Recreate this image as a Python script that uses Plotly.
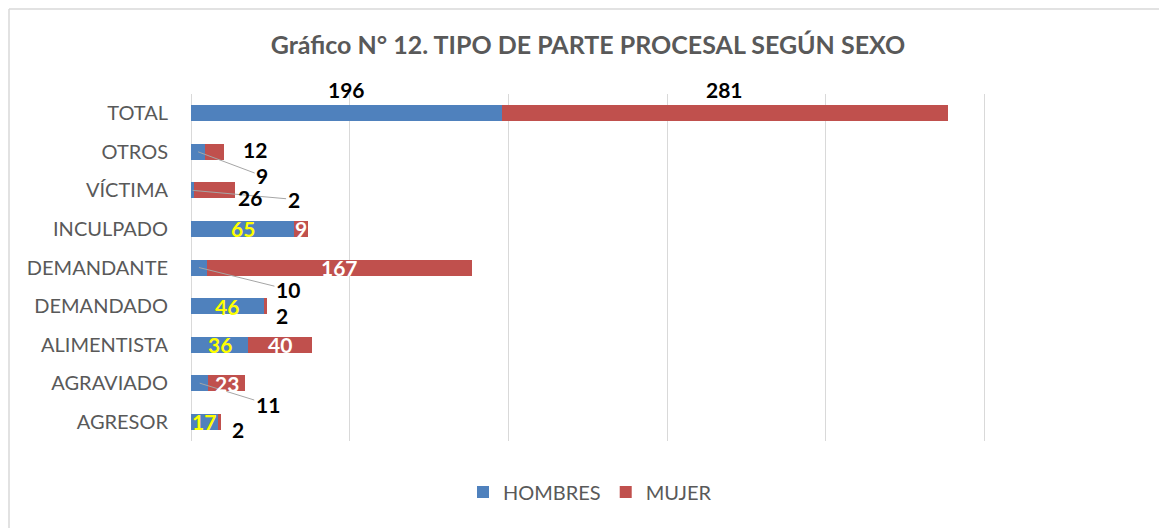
import plotly.graph_objects as go

categories = ["AGRESOR", "AGRAVIADO", "ALIMENTISTA", "DEMANDADO", "DEMANDANTE",
              "INCULPADO", "VÍCTIMA", "OTROS", "TOTAL"]
hombres = [17, 11, 36, 46, 10, 65, 2, 9, 196]
mujer = [2, 23, 40, 2, 167, 9, 26, 12, 281]

# label placement styles: None = inside bar, else (dx, dy, arrow) pixel offset
hombres_lbl = [None, (68, 21, True), None, None, (89, 22, True), None,
               (101, 9, True), (64, 24, True), (0, -24, False)]
mujer_lbl = [(18, 8, False), None, None, (16, 9, False), None, None,
             (35, 7, False), (40, -2, False), (0, -24, False)]

BLUE = "#4F81BD"
RED = "#C0504D"
FONT = "Lato"
LBL = 21

fig = go.Figure()
fig.add_trace(go.Bar(y=categories, x=hombres, name="HOMBRES", orientation="h",
                     marker=dict(color=BLUE, line=dict(width=0))))
fig.add_trace(go.Bar(y=categories, x=mujer, name="MUJER", orientation="h",
                     marker=dict(color=RED, line=dict(width=0))))

annotations = []
for cat, h, m, hl, ml in zip(categories, hombres, mujer, hombres_lbl, mujer_lbl):
    for val, base, lbl, incolor in ((h, 0, hl, "#FFFF00"), (m, h, ml, "#FFFFFF")):
        xc = base + val / 2
        if lbl is None:
            annotations.append(dict(x=xc, y=cat, xref="x", yref="y", text=str(val),
                                    showarrow=False,
                                    font=dict(family=FONT, size=LBL, color=incolor, weight="bold")))
        else:
            dx, dy, arrow = lbl
            if arrow:
                annotations.append(dict(x=xc, y=cat, xref="x", yref="y", text=str(val),
                                        showarrow=True, arrowhead=0, arrowwidth=1,
                                        arrowcolor="#A6A6A6", ax=dx, ay=dy, standoff=0,
                                        font=dict(family=FONT, size=LBL, color="#000000", weight="bold")))
            else:
                annotations.append(dict(x=xc, y=cat, xref="x", yref="y", text=str(val),
                                        showarrow=False, xshift=dx, yshift=-dy,
                                        font=dict(family=FONT, size=LBL, color="#000000", weight="bold")))

# page body has an 8px margin; figure sized to fit the window
W, H = 1159, 520
L, T, B = 183, 86, 87
R = W - L - 952
PH = H - T - B

bx = (1 - L) / 952          # figure-edge x in paper units
by = (H - B - 1) / PH       # figure-edge y in paper units

fig.update_layout(
    width=W, height=H,
    margin=dict(l=L, r=R, t=T, b=B),
    paper_bgcolor="white", plot_bgcolor="white",
    barmode="stack", bargap=0.585,
    title=dict(text="<b>Gráfico N° 12. TIPO DE PARTE PROCESAL SEGÚN SEXO</b>",
               x=(588 - 8) / W, xanchor="center", y=1 - (45 - 8) / H, yanchor="middle",
               font=dict(family=FONT, size=25, color="#595959")),
    xaxis=dict(range=[0, 600], dtick=100, showgrid=True, gridcolor="#D9D9D9", gridwidth=1,
               showticklabels=False, zeroline=True, zerolinecolor="#D9D9D9", zerolinewidth=1,
               showline=False, fixedrange=True),
    yaxis=dict(categoryorder="array", categoryarray=categories, showgrid=False,
               range=[-0.5, len(categories) - 0.5], autorange=False,
               ticklabelstandoff=22,
               tickfont=dict(family=FONT, size=20, color="#595959"), showline=False),
    legend=dict(orientation="h", x=(590 - 191) / 952, xanchor="center",
                y=-(492 - 441) / PH, yanchor="middle",
                font=dict(family=FONT, size=20, color="#595959"), traceorder="normal",
                itemwidth=30),
    annotations=annotations,
    shapes=[
        dict(type="line", xref="paper", yref="paper",
             x0=bx, x1=bx, y0=-(B + 5) / PH, y1=by,
             line=dict(color="#D9D9D9", width=1.5), layer="above"),
        dict(type="line", xref="paper", yref="paper",
             x0=bx, x1=(W + 5 - L) / 952, y0=by, y1=by,
             line=dict(color="#D9D9D9", width=1.5), layer="above"),
    ],
    showlegend=True,
)

fig.write_html("out.html")
